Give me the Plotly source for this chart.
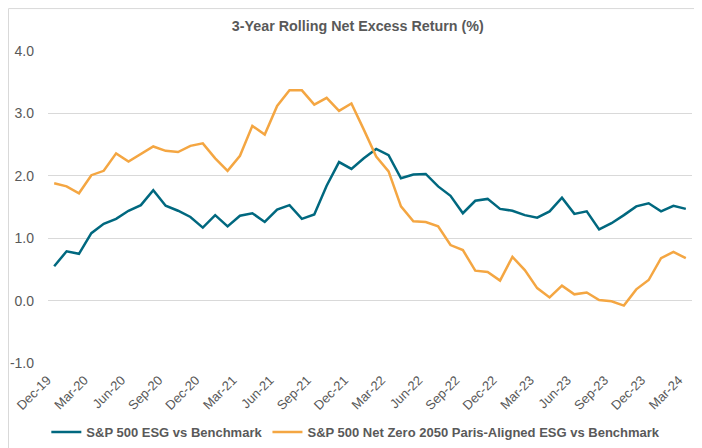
import plotly.graph_objects as go

months = ['Dec-19', 'Jan-20', 'Feb-20', 'Mar-20', 'Apr-20', 'May-20', 'Jun-20', 'Jul-20', 'Aug-20',
          'Sep-20', 'Oct-20', 'Nov-20', 'Dec-20', 'Jan-21', 'Feb-21', 'Mar-21', 'Apr-21', 'May-21',
          'Jun-21', 'Jul-21', 'Aug-21', 'Sep-21', 'Oct-21', 'Nov-21', 'Dec-21', 'Jan-22', 'Feb-22',
          'Mar-22', 'Apr-22', 'May-22', 'Jun-22', 'Jul-22', 'Aug-22', 'Sep-22', 'Oct-22', 'Nov-22',
          'Dec-22', 'Jan-23', 'Feb-23', 'Mar-23', 'Apr-23', 'May-23', 'Jun-23', 'Jul-23', 'Aug-23',
          'Sep-23', 'Oct-23', 'Nov-23', 'Dec-23', 'Jan-24', 'Feb-24', 'Mar-24']

esg = [0.55, 0.79, 0.75, 1.08, 1.23, 1.31, 1.44, 1.53, 1.77, 1.52, 1.44, 1.34, 1.17,
       1.37, 1.19, 1.36, 1.40, 1.26, 1.46, 1.53, 1.31, 1.38, 1.84, 2.22, 2.11, 2.28,
       2.43, 2.33, 1.96, 2.02, 2.03, 1.83, 1.68, 1.40, 1.60, 1.63, 1.47, 1.44, 1.37,
       1.33, 1.43, 1.65, 1.39, 1.43, 1.14, 1.24, 1.37, 1.51, 1.56, 1.43, 1.52, 1.47]

net_zero = [1.88, 1.83, 1.72, 2.01, 2.08, 2.36, 2.23, 2.35, 2.47, 2.40, 2.38, 2.48, 2.52,
            2.28, 2.08, 2.32, 2.80, 2.66, 3.12, 3.37, 3.37, 3.14, 3.25, 3.04, 3.16, 2.74,
            2.31, 2.07, 1.51, 1.27, 1.26, 1.19, 0.89, 0.81, 0.48, 0.46, 0.32, 0.70, 0.49,
            0.20, 0.05, 0.24, 0.10, 0.13, 0.01, -0.01, -0.08, 0.18, 0.33, 0.68, 0.78, 0.68]

tick_labels = months[::3]
y_ticks = [-1, 0, 1, 2, 3, 4]
y_labels = ['-1.0', '0.0', '1.0', '2.0', '3.0', '4.0']

grey = '#595959'
font = 'Liberation Sans, Arial, sans-serif'

fig = go.Figure()
fig.add_trace(go.Scatter(x=months, y=esg, mode='lines', name='S&P 500 ESG vs Benchmark',
                         line=dict(color='#00687F', width=2.5)))
fig.add_trace(go.Scatter(x=months, y=net_zero, mode='lines',
                         name='S&P 500 Net Zero 2050 Paris-Aligned ESG vs Benchmark',
                         line=dict(color='#F4A642', width=2.5)))

# page body has an 8px margin, so the figure is a bit smaller than the window
fig.update_layout(
    width=694, height=440,
    margin=dict(l=40, r=10, t=43, b=85),
    paper_bgcolor='white', plot_bgcolor='white',
    font=dict(family=font, color=grey),
    title=dict(text='<b>3-Year Rolling Net Excess Return (%)</b>', x=0.504, xanchor='center',
               y=0.959, yanchor='middle', font=dict(size=14.3, color=grey)),
    legend=dict(orientation='h', x=0.478, xanchor='center', yref='container', y=0.036,
                yanchor='middle', font=dict(size=13, color=grey, weight='bold'), itemwidth=30,
                tracegroupgap=0),
    shapes=[dict(type='rect', xref='paper', yref='paper', x0=-0.0613, x1=1.03, y0=-0.32, y1=1.136,
                 line=dict(color='#D9D9D9', width=1), fillcolor='rgba(0,0,0,0)', layer='below')],
)
fig.update_xaxes(type='category', range=[-0.5, len(months) - 0.5], tickmode='array',
                 tickvals=tick_labels, ticktext=tick_labels, tickangle=-45,
                 tickfont=dict(size=13, color=grey), showgrid=False, showline=False,
                 ticks='', zeroline=False, ticklabelshift=-7, ticklabelstandoff=6,
                 automargin=False)
fig.update_yaxes(range=[-1, 4], tickvals=y_ticks, ticktext=y_labels,
                 tickfont=dict(size=14, color=grey), gridcolor='#D9D9D9', gridwidth=1,
                 zeroline=False, showline=False, ticks='', ticklabelstandoff=13,
                 automargin=False)

fig.write_html('out.html')
